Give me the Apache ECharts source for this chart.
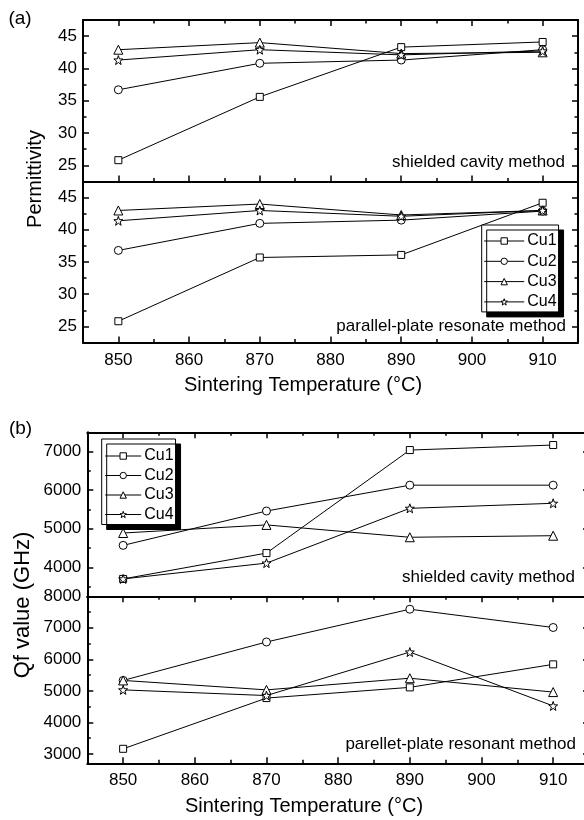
<!DOCTYPE html>
<html>
<head>
<meta charset="utf-8">
<script src="https://cdn.jsdelivr.net/npm/echarts@6/dist/echarts.min.js"></script>
<style>
  html, body { margin: 0; padding: 0; background: #fff; overflow: hidden; }
  #chart { width: 600px; height: 820px; }
</style>
</head>
<body>
<div id="chart"></div>
<script>
// sintering temperatures (°C)
var temps = [850, 870, 890, 910];
var names = ['Cu1', 'Cu2', 'Cu3', 'Cu4'];

// (a) permittivity, shielded cavity method
var epsCavCu1 = [25.8, 35.6, 43.3, 44.1];
var epsCavCu2 = [36.7, 40.8, 41.3, 42.9];
var epsCavCu3 = [42.9, 44.0, 42.3, 42.5];
var epsCavCu4 = [41.3, 42.9, 42.1, 42.7];
// (a) permittivity, parallel-plate resonate method
var epsPpCu1 = [25.8, 35.7, 36.1, 44.2];
var epsPpCu2 = [36.8, 41.0, 41.5, 42.9];
var epsPpCu3 = [43.0, 44.0, 42.3, 43.0];
var epsPpCu4 = [41.4, 43.0, 42.1, 43.0];

// (b) Qf value (GHz), shielded cavity method
var qfCavCu1 = [3700, 4370, 7040, 7170];
var qfCavCu2 = [4570, 5460, 6130, 6130];
var qfCavCu3 = [4890, 5100, 4780, 4820];
var qfCavCu4 = [3700, 4110, 5530, 5660];
// (b) Qf value (GHz), parellet-plate resonant method
var qfPpCu1 = [3160, 4770, 5110, 5840];
var qfPpCu2 = [5330, 6550, 7590, 7010];
var qfPpCu3 = [5330, 5030, 5400, 4960];
var qfPpCu4 = [5030, 4850, 6230, 4520];

// tick values
var xMajor = [850, 860, 870, 880, 890, 900, 910];
var xMinor = [855, 865, 875, 885, 895, 905];
var epsMajor = [25, 30, 35, 40, 45];
var epsMinor = [27.5, 32.5, 37.5, 42.5];
var qfCavMajor = [4000, 5000, 6000, 7000];
var qfCavMinor = [3500, 4500, 5500, 6500];
var qfPpMajor = [3000, 4000, 5000, 6000, 7000, 8000];
var qfPpMinor = [3500, 4500, 5500, 6500, 7500];

var FONT = '"Liberation Sans", Arial, Helvetica, sans-serif';
var STAR = 'path://M0,-10L2.35,-3.24L9.51,-3.09L3.8,1.24L5.88,8.09L0,4L-5.88,8.09L-3.8,1.24L-9.51,-3.09L-2.35,-3.24Z';
var symbols = ['rect', 'circle', 'triangle', STAR];
var symbolSizes = [7, 8, 9, 9];

var panels = [
    {left: 83, top: 20, width: 495, height: 161.5, yMin: 22.5, yMax: 47.5,
     yMajor: epsMajor, yMinor: epsMinor, xLabels: false, topTicks: true, bottomTicks: true,
     data: [epsCavCu1, epsCavCu2, epsCavCu3, epsCavCu4]},
    {left: 83, top: 181.5, width: 495, height: 161, yMin: 22.5, yMax: 47.5,
     yMajor: epsMajor, yMinor: epsMinor, xLabels: true, topTicks: false, bottomTicks: true,
     data: [epsPpCu1, epsPpCu2, epsPpCu3, epsPpCu4]},
    {left: 87.3, top: 432.3, width: 501.7, height: 164, yMin: 3250, yMax: 7500,
     yMajor: qfCavMajor, yMinor: qfCavMinor, xLabels: false, topTicks: true, bottomTicks: false,
     data: [qfCavCu1, qfCavCu2, qfCavCu3, qfCavCu4]},
    {left: 87.3, top: 596.3, width: 501.7, height: 167, yMin: 2700, yMax: 8000,
     yMajor: qfPpMajor, yMinor: qfPpMinor, xLabels: true, topTicks: true, bottomTicks: true,
     data: [qfPpCu1, qfPpCu2, qfPpCu3, qfPpCu4]}
];

function makeAxis(kind, gi, pos, min, max, ticks, len, showLine, labels) {
    return {
        type: 'value', gridIndex: gi, position: pos, min: min, max: max,
        axisLine: {show: showLine, onZero: false, lineStyle: {color: '#000', width: 2}},
        axisTick: {show: ticks.length > 0, inside: true, length: len,
                   customValues: ticks, lineStyle: {color: '#000', width: 1.5}},
        axisLabel: {show: !!labels, customValues: labels || [], margin: kind == 'x' ? 9 : 6,
                    color: '#000', fontSize: 17, fontFamily: FONT,
                    formatter: function (v) { return String(v); }},
        splitLine: {show: false}
    };
}

var grids = [], xAxes = [], yAxes = [], series = [];
panels.forEach(function (p, gi) {
    grids.push({left: p.left, top: p.top, width: p.width, height: p.height, containLabel: false});
    // index 4*gi : bottom / left major axes, used by the series
    xAxes.push(makeAxis('x', gi, 'bottom', 845, 915, p.bottomTicks ? xMajor : [], 6, true, p.xLabels ? xMajor : null));
    xAxes.push(makeAxis('x', gi, 'bottom', 845, 915, p.bottomTicks ? xMinor : [], 3.5, false, null));
    xAxes.push(makeAxis('x', gi, 'top', 845, 915, p.topTicks ? xMajor : [], 6, true, null));
    xAxes.push(makeAxis('x', gi, 'top', 845, 915, p.topTicks ? xMinor : [], 3.5, false, null));
    yAxes.push(makeAxis('y', gi, 'left', p.yMin, p.yMax, p.yMajor, 6, true, p.yMajor));
    yAxes.push(makeAxis('y', gi, 'left', p.yMin, p.yMax, p.yMinor, 3.5, false, null));
    yAxes.push(makeAxis('y', gi, 'right', p.yMin, p.yMax, p.yMajor, 6, true, null));
    yAxes.push(makeAxis('y', gi, 'right', p.yMin, p.yMax, p.yMinor, 3.5, false, null));

    p.data.forEach(function (vals, k) {
        series.push({
            name: names[k],
            type: 'line',
            xAxisIndex: 4 * gi,
            yAxisIndex: 4 * gi,
            data: temps.map(function (t, j) { return [t, vals[j]]; }),
            symbol: symbols[k],
            symbolSize: symbolSizes[k],
            showAllSymbol: true,
            lineStyle: {color: '#000', width: 1},
            itemStyle: {color: '#fff', borderColor: '#000', borderWidth: 1},
            emphasis: {disabled: true}
        });
    });
});

function legendBox(left, top, itemWidth, gap, padding) {
    return {
        data: names, orient: 'vertical', left: left, top: top,
        itemWidth: itemWidth, itemHeight: 8, itemGap: gap, padding: padding,
        backgroundColor: '#fff', borderColor: '#000', borderWidth: 1,
        shadowColor: '#000', shadowBlur: 0, shadowOffsetX: 5, shadowOffsetY: 5,
        selectedMode: false,
        itemStyle: {color: '#fff', borderColor: '#000', borderWidth: 1},
        lineStyle: {color: '#000', width: 1},
        textStyle: {color: '#000', fontSize: 16, fontFamily: FONT, padding: [0, 0, 0, -2]}
    };
}

function label(text, x, y, size, align, rotate) {
    return {
        type: 'text', x: x, y: y, z: 100, rotation: rotate ? Math.PI / 2 : 0,
        style: {text: text, x: 0, y: 0, fill: '#000', font: size + 'px ' + FONT,
                align: align, verticalAlign: 'middle',
                textAlign: align, textVerticalAlign: 'middle'}
    };
}

var chart = echarts.init(document.getElementById('chart'));
chart.setOption({
    animation: false,
    backgroundColor: '#fff',
    grid: grids,
    xAxis: xAxes,
    yAxis: yAxes,
    series: series,
    legend: [
        legendBox(481.7, 225, 40, 4.3, [8, 2, 2, 2]),
        legendBox(101.7, 439, 36, 3.5, [9, 2, 2, 3])
    ],
    graphic: [
        label('(a)', 20, 19, 19, 'center'),
        label('(b)', 20.5, 429, 19, 'center'),
        label('Permittivity', 35, 179, 20, 'center', true),
        label('Qf value (GHz)', 23, 605, 22, 'center', true),
        label('Sintering Temperature (°C)', 303, 385, 20, 'center'),
        label('Sintering Temperature (°C)', 304, 806, 20, 'center'),
        label('shielded cavity method', 565, 162, 17, 'right'),
        label('parallel-plate resonate method', 566, 326, 17, 'right'),
        label('shielded cavity method', 575, 577, 17, 'right'),
        label('parellet-plate resonant method', 576, 744, 17, 'right')
    ]
});
</script>
</body>
</html>
